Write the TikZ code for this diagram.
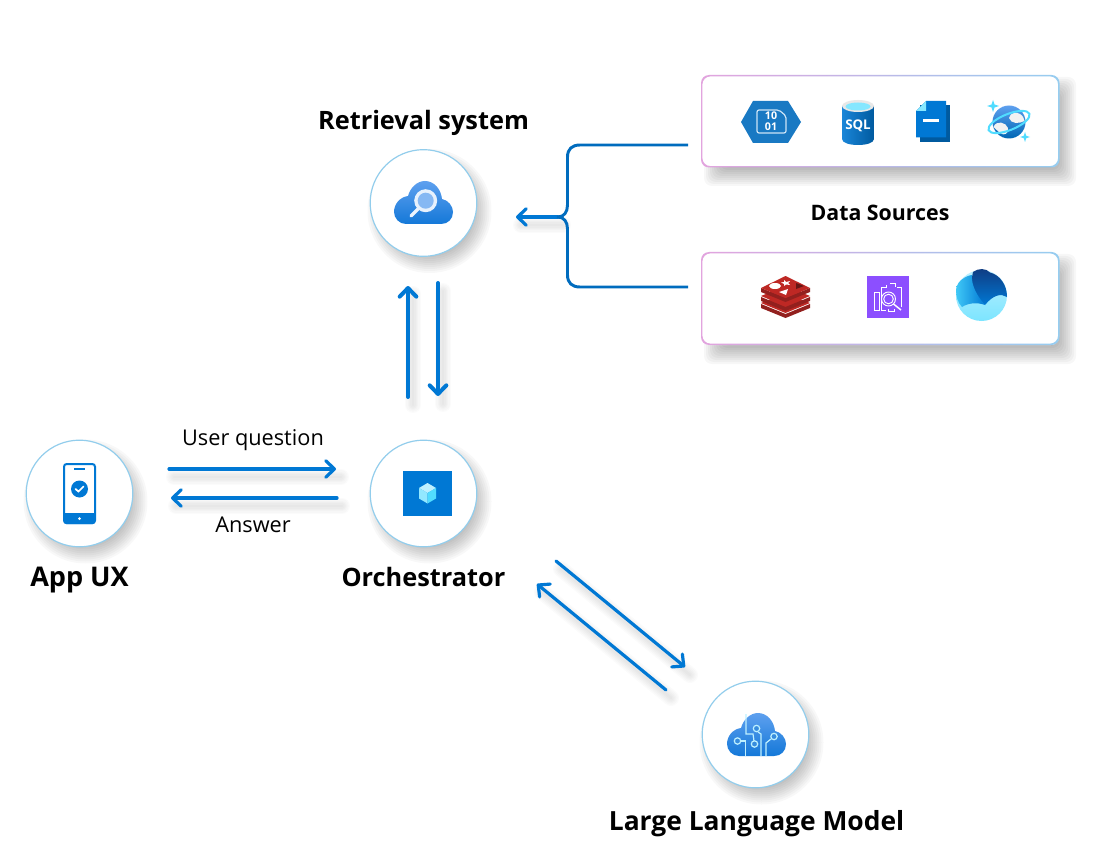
\documentclass[tikz,border=0pt]{standalone}
\usepackage{fontspec}
\setmainfont{Open Sans}
\usetikzlibrary{arrows.meta,calc}

\definecolor{flowblue}{RGB}{0,120,212}
\definecolor{bracketblue}{RGB}{0,108,190}
\definecolor{ringblue}{RGB}{146,205,236}
\definecolor{cardpink}{RGB}{226,164,222}
\definecolor{cardblue}{RGB}{150,205,240}
\definecolor{cloudtop}{RGB}{94,160,239}
\definecolor{cloudlow}{RGB}{20,120,216}
\definecolor{redisred}{RGB}{190,40,36}
\definecolor{redisdark}{RGB}{146,32,30}
\definecolor{aipurple}{RGB}{140,79,255}
\definecolor{paleblue}{RGB}{190,240,255}
\definecolor{skyblue}{RGB}{80,220,255}
\definecolor{navyblue}{RGB}{16,60,130}

\tikzset{every picture/.style={line width=0.75pt}}
\tikzset{
  hub/.style={circle,draw=ringblue,line width=0.9pt,fill=white,minimum size=80pt,inner sep=0pt},
  title/.style={font=\bfseries\fontsize{19}{22}\selectfont,text=black,inner sep=0pt,anchor=base},
  caption/.style={font=\fontsize{16.3}{19}\selectfont,text=black,inner sep=0pt,anchor=base},
  flowtip/.tip={Straight Barb[round,length=6.5pt,width=12.5pt]},
  flow/.style={draw=flowblue,line width=2.4pt,line cap=round,-flowtip},
  flowthick/.style={draw=flowblue,line width=3pt,line cap=round,-flowtip},
  iconword/.style={text=white,inner sep=0pt},
}

% soft shadow of a hub
\newcommand{\hubshadow}[1]{
  \foreach \rad in {42,44,...,62} {\fill[black,opacity=0.027] ($(#1)+(6,8)$) circle (\rad);}
}
% soft shadow of a card
\newcommand{\cardshadow}[4]{
  \foreach \grow in {-8,-6,...,10} {\fill[black,opacity=0.03,rounded corners=6pt] (#1-\grow,#2-\grow) rectangle (#3+\grow,#4+\grow);}
}
% soft shadow of a connector
\newcommand{\flowshadow}[2]{
  \foreach \wid in {2,4,...,12} {\draw[black,opacity=0.016,line width=\wid,line cap=round] ($(#1)+(5,8)$) -- ($(#2)+(5,8)$);}
}
% cloud, 59 wide and 43 high, from its top left corner
\newcommand{\cloudshape}[2]{
  \shade[top color=cloudtop,bottom color=cloudlow,shift={(#1,#2)}] (12,43) .. controls (5,43) and (0,37) .. (0,31) .. controls (0,23) and (6,16) .. (14,15) .. controls (16,7) and (23,0) .. (31,0) .. controls (40,0) and (47,8) .. (48,18) .. controls (54,19) and (59,25) .. (59,31) .. controls (59,38) and (54,43) .. (47,43) -- cycle;
}

\begin{document}
\begin{tikzpicture}[x=0.75pt,y=0.75pt,yscale=-1,xscale=1]
\useasboundingbox (0,0) rectangle (1095,859);
\fill[white] (0,0) rectangle (1095,859);

%Shadows
\coordinate (retrievalc) at (423.5,203);
\coordinate (orchc) at (423.5,493.5);
\coordinate (appc) at (79.5,493.5);
\coordinate (llmc) at (755.5,734.5);
\hubshadow{retrievalc}
\hubshadow{orchc}
\hubshadow{appc}
\hubshadow{llmc}
\cardshadow{714}{87}{1066}{176}
\cardshadow{714}{264}{1066}{354}

%Hubs
\node (retrieval) [hub] at (retrievalc) {};
\node (orch) [hub] at (orchc) {};
\node (app) [hub] at (appc) {};
\node (llm) [hub] at (llmc) {};

%Cards
\fill[white,rounded corners=6pt] (701,75) rectangle (1059,167);
\shade[left color=cardpink,right color=cardblue,even odd rule,rounded corners=6pt] (701,75) rectangle (1059.5,167.5) (702.4,76.4) rectangle (1058.1,166.1);
\fill[white,rounded corners=6pt] (701,252) rectangle (1059,345);
\shade[left color=cardpink,right color=cardblue,even odd rule,rounded corners=6pt] (701,252) rectangle (1059.5,345) (702.4,253.4) rectangle (1058.1,343.6);

%Labels
\node (retrievallabel) [title] at (423.5,129.5) {Retrieval system};
\node (orchlabel) [title] at (423.5,586) {Orchestrator};
\node (applabel) [title,font=\bfseries\fontsize{20.3}{22}\selectfont] at (79.5,586) {App UX};
\node (llmlabel) [title,font=\bfseries\fontsize{19.8}{22}\selectfont] at (756.5,830) {Large Language Model};
\node (sourceslabel) [font=\fontsize{16}{19}\selectfont\bfseries,inner sep=0pt,anchor=base] at (880,221) {Data Sources};
\node (questionlabel) [caption] at (253,445) {User question};
\node (answerlabel) [caption] at (253,532) {Answer};

%Connector ends
\coordinate (qstart) at (169,469);
\coordinate (qend) at (336,469);
\coordinate (astart) at (337,498);
\coordinate (aend) at (171,498);
\coordinate (upstart) at (408,397);
\coordinate (upend) at (408,286);
\coordinate (downstart) at (438,283);
\coordinate (downend) at (438,396);
\coordinate (llmstart) at (556,561);
\coordinate (llmend) at (685,667);
\coordinate (backstart) at (666,690);
\coordinate (backend) at (537,584);
\coordinate (bracetop) at (688,145);
\coordinate (bracelow) at (688,287);
\coordinate (bracemid) at (558,217);
\coordinate (braceend) at (516,217);

%Connector shadows
\flowshadow{qstart}{qend}
\flowshadow{astart}{aend}
\flowshadow{upstart}{upend}
\flowshadow{downstart}{downend}
\flowshadow{llmstart}{llmend}
\flowshadow{backstart}{backend}
\flowshadow{bracemid}{braceend}

%Connectors
\draw[flow] (qstart) -- (qend);
\draw[flow] (astart) -- (aend);
\draw[flowthick] (upstart) -- (upend);
\draw[flowthick] (downstart) -- (downend);
\draw[flow] (llmstart) -- (llmend);
\draw[flow] (backstart) -- (backend);
\draw[flow] (bracemid) -- (braceend);
%Bracket
\draw[draw=bracketblue,line width=2.2pt,line join=round] (bracetop) -- (580,145) .. controls (572,145) and (567.5,149) .. (567.5,157) -- (567.5,205) .. controls (567.5,212) and (564,217) .. (bracemid) .. controls (564,217) and (567.5,222) .. (567.5,229) -- (567.5,275) .. controls (567.5,283) and (572,287) .. (580,287) -- (bracelow);

%Icon: retrieval cloud
\cloudshape{394}{181}
\draw[white!88!cloudtop,line width=2.4pt,line cap=round] (420,207) -- (411,216);
\fill[white!85!cloudtop] (425.7,200.7) circle (11.5);
\fill[cloudtop!75!white] (425.7,200.7) circle (8);

%Icon: phone
\draw[flowblue,line width=1.5pt,rounded corners=2pt] (64,464) rectangle (95,523);
\fill[flowblue,rounded corners=2pt] (63.5,513) rectangle (95.5,524);
\fill[flowblue] (63.5,513) rectangle (95.5,517);
\fill[white] (79.5,518.5) circle (1.5);
\draw[flowblue,line width=1.3pt] (74,469) -- (85,469);
\fill[flowblue] (79.5,489) circle (8.5);
\draw[white,line width=1.3pt,line cap=round] (75.5,489) -- (78.5,491.5) -- (83.5,486.5);

%Icon: orchestrator block
\fill[flowblue] (403,471) rectangle (452,516);
\fill[paleblue] (427.5,483) -- (436,488) -- (427.5,493) -- (419,488) -- cycle;
\fill[paleblue!60!skyblue] (419,488) -- (427.5,493) -- (427.5,503.5) -- (419,498.5) -- cycle;
\fill[skyblue] (436,488) -- (427.5,493) -- (427.5,503.5) -- (436,498.5) -- cycle;

%Icon: model cloud
\cloudshape{727}{713}
\begin{scope}[draw=paleblue,line width=0.9pt]
\draw (746,714) -- (746,734) -- (753,734) -- (754,741);
\draw (745.5,756) -- (745.5,741) -- (741,741);
\draw (761,756) -- (761,734) -- (758,732);
\draw (766,756) -- (766,743) -- (771,739);
\draw[fill=cloudlow!85!white] (754.5,744) circle (3.2);
\draw[fill=cloudlow!85!white] (737.5,741) circle (3.2);
\draw[fill=cloudlow!85!white] (756.5,728.5) circle (3.2);
\draw[fill=cloudlow!85!white] (774,736.5) circle (3.2);
\end{scope}

%Icon: binary hexagon
\fill[flowblue!80!gray] (741,122) -- (753,101) -- (788,101) -- (801,122) -- (788,143) -- (753,143) -- cycle;
\draw[white!80!flowblue,line width=0.9pt,rounded corners=1.5pt] (757,110) -- (779,110) -- (786,116) -- (786,133) -- (757,133) -- cycle;
\node (binarytop) [iconword,font=\fontsize{8}{9}\selectfont\bfseries] at (771,116) {10};
\node (binarylow) [iconword,font=\fontsize{8}{9}\selectfont\bfseries] at (771,127) {01};

%Icon: SQL barrel
\shade[left color=flowblue!90!white,right color=flowblue!75!black] (842,106) -- (842,139) .. controls (842,143) and (850,145) .. (858,145) .. controls (866,145) and (874,143) .. (874,139) -- (874,106) -- cycle;
\fill[gray!18] (858,106) ellipse (16 and 6);
\fill[skyblue!70!white] (858,106.5) ellipse (12.5 and 4);
\node (sqlword) [iconword,font=\fontsize{10}{12}\selectfont\bfseries] at (858,126) {SQL};

%Icon: document
\fill[flowblue!75!black] (920,105) rectangle (950,142);
\fill[flowblue] (926,101) -- (946,101) -- (946,137.5) -- (916,137.5) -- (916,111) -- cycle;
\fill[skyblue!70!white] (926,101) -- (926,111) -- (916,111) -- cycle;
\fill[white] (923,119) rectangle (939,122);

%Icon: planet
\shade[top color=cloudtop,bottom color=flowblue!85!black] (1009,122) circle (16.5);
\fill[white!90!gray] (993.5,127) .. controls (996,120) and (1006,122) .. (1008,128) .. controls (1009,134) and (1004,136) .. (1000,133) -- cycle;
\fill[white!90!gray] (1009,118) .. controls (1010,112) and (1017,112) .. (1020,114) .. controls (1023,116) and (1024,118) .. (1024.5,121) .. controls (1019,124) and (1011,124) .. (1009,118) -- cycle;
\draw[skyblue,line width=1.5pt,rotate around={-22:(1009,122)}] (1009,122) ellipse (22 and 8);
\fill[skyblue] (993,100) -- (994.5,104.5) -- (999,106) -- (994.5,107.5) -- (993,112) -- (991.5,107.5) -- (987,106) -- (991.5,104.5) -- cycle;
\fill[skyblue] (1025,132) -- (1026.2,135.8) -- (1030,137) -- (1026.2,138.2) -- (1025,142) -- (1023.8,138.2) -- (1020,137) -- (1023.8,135.8) -- cycle;

%Icon: redis stack
\foreach \lay in {14,7} {
  \fill[redisdark] (761,290+\lay) -- (785.5,300+\lay) -- (810,290+\lay) -- (810,294+\lay) -- (785.5,304+\lay) -- (761,294+\lay) -- cycle;
  \fill[redisred] (761,290+\lay-1) -- (785.5,280+\lay-1) -- (810,290+\lay-1) -- (785.5,300+\lay-1) -- cycle;
}
\fill[redisdark] (761,288) -- (785.5,298) -- (810,288) -- (810,292) -- (785.5,302) -- (761,292) -- cycle;
\fill[redisred] (761,288) -- (785.5,276) -- (810,288) -- (785.5,298) -- cycle;
\fill[white] (775,286) ellipse (6 and 3);
\fill[white] (784,280) -- (786,282) -- (790,281) -- (788,283) -- (790,285) -- (786,284.5) -- (784,286) -- (784,284) -- (781,282.5) -- (784,282) -- cycle;
\fill[white] (779,292) -- (788,289) -- (786,295) -- cycle;
\fill[redisdark!70!black] (796,283) -- (804,286) -- (796,289) -- cycle;

%Icon: purple search
\fill[aipurple] (867,276) rectangle (909,318);
\begin{scope}[draw=white,line width=0.7pt]
\draw (874.5,292) rectangle (879.5,310);
\draw (881,287) -- (881,310) -- (886,310);
\draw (881,287) -- (886,287) -- (886,285);
\draw (890,283) -- (895,283) -- (895,287);
\draw (897,287) -- (901.5,287) -- (901.5,307);
\draw (888,309) -- (888,311) -- (894,311) -- (894,309);
\draw (888.5,299) circle (7);
\draw (888.5,299) circle (4.8);
\draw[line width=1.1pt] (893.5,304) -- (901,310);
\end{scope}

%Icon: blue sphere
\shade[top color=paleblue,bottom color=skyblue!75!white] (981.5,295.5) circle (25.5);
\shade[top color=navyblue,bottom color=flowblue] (973,272) .. controls (978,268) and (986,268) .. (990,272.5) .. controls (1000,275) and (1007,285) .. (1007,297) .. controls (1001,293) and (993,295) .. (985,305) .. controls (979,299) and (972,291) .. (971,282) -- cycle;
\shade[left color=skyblue!80!flowblue,right color=flowblue] (956,290) .. controls (956,285) and (960,280) .. (964,278) .. controls (967,276) and (971,275) .. (972,275) .. controls (971,285) and (977,296) .. (985,305) .. controls (977,302) and (968,303) .. (962,307) .. controls (958,303) and (956,297) .. (956,290) -- cycle;
\end{tikzpicture}
\end{document}
